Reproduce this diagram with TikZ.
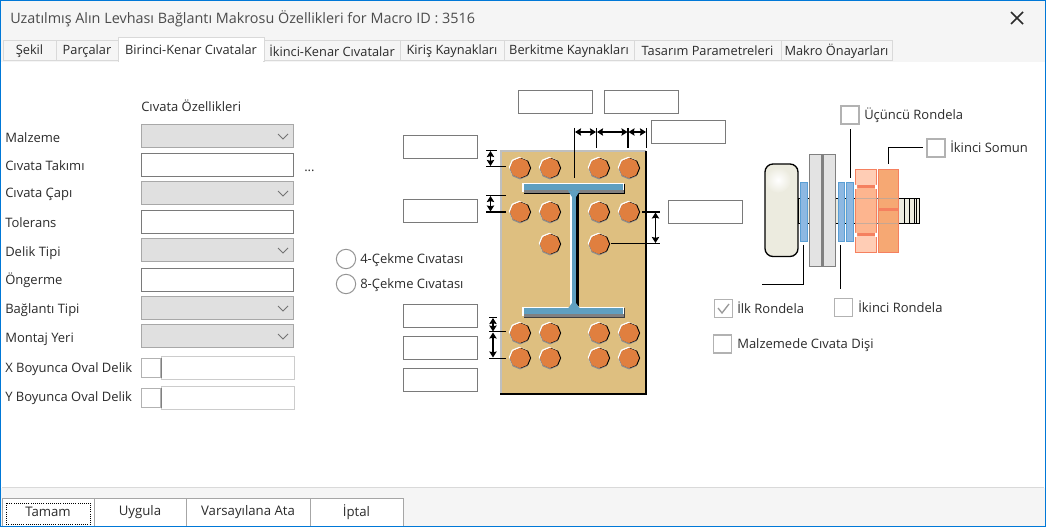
\documentclass[tikz,border=0pt]{standalone}
\usepackage{fontspec}
\setmainfont{Open Sans}
\usetikzlibrary{arrows.meta,shapes.geometric}
\definecolor{winblue}{HTML}{0078D7}
\definecolor{barcol}{HTML}{F5F5F5}
\definecolor{tabedge}{HTML}{D9D9D9}
\definecolor{inkcol}{HTML}{2B2B2B}
\definecolor{platecol}{HTML}{DEBF80}
\definecolor{boltcol}{HTML}{E07F3F}
\definecolor{beamcol}{HTML}{5F9FC0}
\definecolor{ivorycol}{HTML}{ECEBDF}
\definecolor{washcol}{HTML}{8DB8E2}
\definecolor{washedge}{HTML}{5A9FD5}
\definecolor{nutedge}{HTML}{F5805F}
\definecolor{nuta}{HTML}{FFCDB5}
\definecolor{nutb}{HTML}{FDB58F}
\definecolor{nutc}{HTML}{F6A873}
\begin{document}
\begin{tikzpicture}[x=0.75pt,y=-0.75pt]
    \tikzstyle{lbl}=[anchor=west,inner sep=0pt,yshift=-0.5pt,text=inkcol,font=\fontsize{9.75}{11}\selectfont,text height=1.5ex,text depth=.3ex]
    \tikzstyle{tabbox}=[draw=tabedge,fill=barcol,line width=0.75pt,minimum height=15pt,inner sep=0pt,text=inkcol,font=\fontsize{9.6}{11}\selectfont]
    \tikzstyle{fieldbox}=[draw=black!52,fill=white,line width=0.75pt,minimum width=114pt,minimum height=17.25pt,inner sep=0pt]
    \tikzstyle{combobox}=[fieldbox,draw=black!34,fill=black!12]
    \tikzstyle{dimbox}=[fieldbox,minimum width=55.5pt]
    \tikzstyle{checkbox}=[draw=black!30,fill=white,line width=1.1pt,minimum size=13.2pt,inner sep=0pt]
    \tikzstyle{radiobox}=[circle,draw=black!42,fill=white,line width=0.75pt,minimum size=14.5pt,inner sep=0pt]
    \tikzstyle{btnbox}=[draw=black!35,fill=white,line width=0.75pt,minimum height=21pt,inner sep=0pt,text=inkcol,font=\fontsize{9.9}{11}\selectfont]
    \tikzstyle{dimline}=[black,line width=0.75pt]
    \tikzstyle{dimarrow}=[black,line width=0.9pt,{Stealth[length=4.5pt,width=5.5pt,inset=0.6pt]}-{Stealth[length=4.5pt,width=5.5pt,inset=0.6pt]}]
    \useasboundingbox (0,0) rectangle (1046,527);
    % window
    \fill[white] (0,0) rectangle (1046,527);
    \fill[barcol] (0,0) rectangle (1046,62);
    \fill[barcol] (0,488) rectangle (1046,527);
    \draw[tabedge,line width=0.75pt] (2,487.5) -- (1044,487.5);
    \node[anchor=west,inner sep=0pt,text=inkcol!85,font=\fontsize{10.78}{13}\selectfont] (title) at (10,19) {Uzatılmış Alın Levhası Bağlantı Makrosu Özellikleri for Macro ID : 3516};
    \draw[inkcol,line width=1.2pt] (1011,12) -- (1023,24) (1023,12) -- (1011,24);
    % tabs
    \foreach \tname/\tx/\tw/\ttext in {sekil/29.5/53/Şekil,parca/87/62/Parçalar,ikinci/332/136/İkinci-Kenar Cıvatalar,kiris/452/104/Kiriş Kaynakları,berk/569/130/Berkitme Kaynakları,tasarim/707.5/147/Tasarım Parametreleri,makro/836.5/111/Makro Önayarları}
      \node[tabbox,minimum width=\tw*0.75pt] (\tname) at (\tx,51) {\ttext};
    \fill[white] (2,62) rectangle (1044,64);
    \node[tabbox,fill=white,draw=tabedge,minimum width=109.5pt,minimum height=18pt] (birinci) at (191,49.5) {Birinci-Kenar Cıvatalar};
    \fill[white] (119,59) rectangle (263,64);
    % left column
    \node[lbl] (ozellik) at (141,107) {Cıvata Özellikleri};
    \foreach \fname/\fy in {malz/136,capi/193,delik/250,baglanti/308,montaj/336}{
      \node[combobox] (\fname) at (217.5,\fy) {};
      \draw[black!55,line width=0.7pt] (278,\fy-2) -- (283,\fy+3) -- (288,\fy-2);
    }
    \foreach \fname/\fy in {takim/165,tolerans/222,onger/280}
      \node[fieldbox] (\fname) at (217.5,\fy) {};
    \foreach \lname/\ly/\ltext in {lmalz/138/Malzeme,ltakim/166/Cıvata Takımı,lcapi/193/Cıvata Çapı,ltol/223/Tolerans,ldelik/252/Delik Tipi,longer/280/Öngerme,lbag/309/Bağlantı Tipi,lmontaj/338/Montaj Yeri,lx/368/X Boyunca Oval Delik,ly/397/Y Boyunca Oval Delik}
      \node[lbl] (\lname) at (5,\ly) {\ltext};
    \node[lbl] (dots) at (304,167) {...};
    \foreach \oname/\oy in {x/368,y/398}{
      \node[fieldbox,draw=black!20,minimum width=99.75pt] (oval\oname) at (227.5,\oy) {};
      \node[checkbox,minimum width=14pt,minimum height=14.5pt] (chk\oname) at (151,\oy) {};
      \draw[black!50,line width=1pt] (161.5,\oy-10) -- (161.5,\oy+10);
    }
    % radios
    \node[radiobox] (rada) at (346,259) {};
    \node[radiobox] (radb) at (346,284) {};
    \node[lbl] (lrada) at (360,259) {4-Çekme Cıvatası};
    \node[lbl] (lradb) at (360,284) {8-Çekme Cıvatası};
    % dimension boxes
    \foreach \dname/\dx/\dy in {da/555.5/102,db/641.5/102,dc/688.5/132,dd/440.5/147,de/440.5/211,df/705.5/212,dg/440.5/316,dh/440.5/348,di/440.5/380}
      \node[dimbox] (\dname) at (\dx,\dy) {};
    % plate
    \fill[platecol] (501,151) rectangle (646,394);
    \draw[black!25,line width=1pt] (501,394) -- (501,151) -- (646,151);
    \draw[black,line width=0.9pt] (646,151) -- (646,394) -- (500,394);
    % beam
    \fill[white] (522,183) rectangle (624,192);
    \fill[black!50] (524,190) rectangle (624,193);
    \fill[black] (524,193) rectangle (625,194);
    \fill[black] (624,184) rectangle (625,194);
    \fill[beamcol] (524,184.5) rectangle (623,190.5);
    \fill[white] (522,307) rectangle (624,316);
    \fill[black!50] (524,314) rectangle (624,317);
    \fill[black!75] (524,317) rectangle (625,318);
    \fill[black!75] (624,308) rectangle (625,318);
    \fill[beamcol] (524,308.5) rectangle (623,314.5);
    \fill[white] (570,194) rectangle (572,308);
    \fill[black] (576,194) rectangle (578.5,306);
    \fill[beamcol] (572,190) rectangle (576,309);
    \fill[beamcol] (568,190.5) -- (580,190.5) -- (576,197) -- (572,197) -- cycle;
    \fill[beamcol] (568,308.5) -- (580,308.5) -- (576,303) -- (572,303) -- cycle;
    % bolts
    \foreach \bx/\by in {520/168,550/168,599/168,629/168,520/212,550/212,599/212,629/212,550/244,599/244,520/333,550/333,599/333,629/333,520/358,550/358,599/358,629/358}{
      \node[regular polygon,regular polygon sides=8,shape border rotate=22.5,fill=white,minimum size=15.6pt,inner sep=0pt] at (\bx-0.8,\by-0.8) {};
      \node[regular polygon,regular polygon sides=8,shape border rotate=22.5,fill=black!45,minimum size=15.6pt,inner sep=0pt] at (\bx,\by+1) {};
      \node[regular polygon,regular polygon sides=8,shape border rotate=22.5,fill=black,minimum size=15.2pt,inner sep=0pt] at (\bx+1,\by) {};
      \node[regular polygon,regular polygon sides=8,shape border rotate=22.5,fill=boltcol,minimum size=15pt,inner sep=0pt] at (\bx,\by) {};
    }
    % top dimensions
    \draw[dimline] (574.5,128) -- (574.5,178);
    \draw[dimline] (596.5,128) -- (596.5,148);
    \draw[black,line width=1.4pt] (628,128) -- (628,148);
    \draw[dimline] (646.5,128) -- (646.5,148);
    \draw[dimarrow] (575,132) -- (596,132);
    \draw[dimarrow] (597,132) -- (627.5,132);
    \draw[dimarrow] (628.5,132) -- (646,132);
    % left dimensions
    \draw[dimline] (486,150.5) -- (497,150.5);
    \draw[black,line width=1.3pt] (486,166.5) -- (506,166.5);
    \draw[dimarrow] (490.5,151) -- (490.5,166);
    \draw[dimline] (486,195.5) -- (506,195.5);
    \draw[black,line width=1.3pt] (486,212) -- (506,212);
    \draw[dimarrow] (490.5,196) -- (490.5,211.5);
    \draw[dimline] (489,317.5) -- (497,317.5);
    \draw[dimline] (489,332) -- (506,332);
    \draw[dimline] (489,358) -- (506,358);
    \draw[dimarrow] (493,318) -- (493,331.5);
    \draw[dimarrow] (493,332.5) -- (493,357.5);
    % right dimension
    \draw[black,line width=1.3pt] (642,212) -- (660,212);
    \draw[dimline] (611,243.5) -- (660,243.5);
    \draw[dimarrow] (655.5,212.5) -- (655.5,243);
    % bolt assembly
    \draw[black,line width=0.75pt,fill=ivorycol] (798,198.5) rectangle (919.5,223.5);
    \foreach \tx in {904,909,914,916.5}
      \draw[black,line width=0.7pt] (\tx,198.5) -- (\tx,223.5);
    \begin{scope}
      \clip[rounded corners=6pt] (765,164) rectangle (798,256.5);
      \fill[ivorycol] (765,164) rectangle (798,256.5);
      \shade[inner color=white,outer color=ivorycol] (778,180) circle (13);
    \end{scope}
    \draw[black,line width=1pt,rounded corners=6pt] (765,164) rectangle (798,256.5);
    \fill[washcol,draw=washedge,line width=0.75pt] (800.5,182.5) rectangle (807.5,241.5);
    \fill[black!11,draw=black!50,line width=0.75pt] (809.5,154.5) rectangle (835.5,267);
    \fill[black!50] (821,154.5) rectangle (823.5,267);
    \fill[washcol,draw=washedge,line width=0.75pt] (838.5,182.5) rectangle (844.5,241.5);
    \fill[washcol,draw=washedge,line width=0.75pt] (846.5,182.5) rectangle (853.5,241.5);
    % nuts
    \draw[nutedge,line width=0.75pt,fill=nuta] (855.5,169.5) rectangle (876.5,252.5);
    \fill[nutb] (856,188) rectangle (876,234);
    \fill[nutedge] (857,185.5) rectangle (875,188.5);
    \fill[nutedge] (857,233.5) rectangle (875,236.5);
    \fill[white] (875,185) rectangle (877.5,189) (875,233) rectangle (877.5,237);
    \fill[white] (854.5,185) rectangle (857,189) (854.5,233) rectangle (857,237);
    \draw[nutedge,line width=0.75pt,fill=nutc] (878.5,169.5) rectangle (898.5,252.5);
    \fill[nutedge] (879,208.5) rectangle (898,211.5);
    \draw[black!35,line width=0.5pt,opacity=0.6] (856,198.5) -- (898,198.5) (856,223.5) -- (898,223.5);
    % leaders
    \draw[dimline] (850.5,129) -- (850.5,178);
    \draw[dimline] (888.5,164) -- (888.5,147.5) -- (923,147.5);
    \draw[dimline] (803.5,245) -- (803.5,284.5) -- (762,284.5);
    \draw[dimline] (840.5,245) -- (840.5,289);
    % checks
    \node[checkbox] (cucuncu) at (850,115) {};
    \node[lbl] (lucuncu) at (864,115) {Üçüncü Rondela};
    \node[checkbox] (csomun) at (936,148) {};
    \node[lbl] (lsomun) at (950,148) {İkinci Somun};
    \node[checkbox] (cilk) at (723.5,308.5) {};
    \draw[black!40,line width=1pt] (718,308) -- (722,313) -- (729,304);
    \node[lbl] (lilk) at (737,309) {İlk Rondela};
    \node[checkbox] (cikinci) at (843.5,307.5) {};
    \node[lbl] (likinci) at (858,308) {İkinci Rondela};
    \node[checkbox] (cmalz) at (722.5,344) {};
    \node[lbl] (lcmalz) at (737,344) {Malzemede Cıvata Dişi};
    % buttons
    \foreach \bname/\bcx/\bw/\btext in {tamam/48/92/Tamam,uygula/140/92/Uygula,varsay/248/124/Varsayılana Ata,iptal/356.5/93/İptal}
      \node[btnbox,minimum width=\bw*0.75pt] (\bname) at (\bcx,512) {\btext};
    \draw[black,line width=0.6pt,densely dotted] (6,503) rectangle (90.5,524);
    % border
    \draw[winblue,line width=1.1pt] (0.7,0.7) rectangle (1045.3,526.3);
\end{tikzpicture}
\end{document}
